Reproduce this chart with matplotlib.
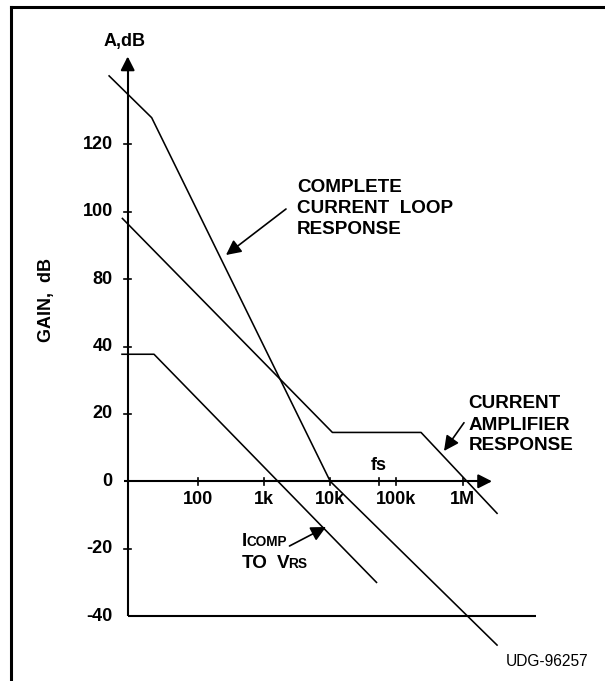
import matplotlib
matplotlib.use("Agg")
import matplotlib.pyplot as plt
from matplotlib.lines import Line2D

# ---------------- data ----------------
# x: frequency in Hz (log axis); y: vertical position in axis units
# (tick positions are evenly spaced; their printed labels are below)
freq_ticks = [100, 1e3, 1e4, 1e5, 1e6]
freq_labels = ["100", "1k", "10k", "100k", "1M"]
fs_freq = 55e3

gain_tick_pos = [100, 80, 60, 40, 20, 0, -20, -40]
gain_tick_labels = ["120", "100", "80", "40", "20", "0", "-20", "-40"]

loop_f = [4.6, 20.2, 10.0e3, 3.3e6]          # complete current loop response
loop_g = [120.3, 107.9, 0.0, -48.6]

amp_f = [7.3, 10.8e3, 235e3, 3.3e6]          # current amplifier response
amp_g = [78.0, 14.5, 14.5, -9.5]

icomp_f = [7.2, 21.9, 50e3]                  # ICOMP to VRS
icomp_g = [37.7, 37.7, -30.0]

# ---------------- layout ----------------
W, H = 605, 681
X100_PX, DEC_PX = 197.7, 66.25      # pixel of 100 Hz, pixels per decade
Y0_PX, UNIT_PX = 481.3, 67.4 / 20   # pixel of 0, pixels per axis unit


def fx(px):
    return 10 ** (2 + (px - X100_PX) / DEC_PX)


def fy(py):
    return (Y0_PX - py) / UNIT_PX


def FX(px):
    return px / W


def FY(py):
    return 1 - py / H


plt.rcParams['font.family'] = ['Liberation Sans', 'DejaVu Sans']

fig = plt.figure(figsize=(W / 100, H / 100), dpi=100)
ax = fig.add_axes([0, 0, 1, 1])
ax.set_xscale('log')
ax.set_xlim(fx(0), fx(W))
ax.set_ylim(fy(H), fy(0))
ax.axis('off')

LW = 1.15
AXW = 1.5
TICK_FS = 13
LABEL_FS = 13.6
bold = dict(fontweight='bold', color='black')

# frame (top and left borders)
fig.add_artist(Line2D([FX(10.5), FX(10.5)], [FY(6.5), 0], color='black', lw=2.2,
                      transform=fig.transFigure, solid_capstyle='projecting'))
fig.add_artist(Line2D([FX(10.5), 1], [FY(6.5), FY(6.5)], color='black', lw=2.2,
                      transform=fig.transFigure, solid_capstyle='projecting'))

# axes lines
x_axis_f = fx(127.7)
ax.plot([x_axis_f, x_axis_f], [-40, fy(66)], color='black', lw=AXW, solid_capstyle='butt')
ax.annotate('', xy=(x_axis_f, fy(56.5)), xytext=(x_axis_f, fy(70)),
            arrowprops=dict(arrowstyle='-|>,head_length=0.55,head_width=0.28',
                            mutation_scale=15, color='black', lw=AXW,
                            shrinkA=0, shrinkB=0))
ax.plot([fx(124.5), fx(482)], [0, 0], color='black', lw=AXW, solid_capstyle='butt')
ax.annotate('', xy=(fx(492), 0), xytext=(fx(478), 0),
            arrowprops=dict(arrowstyle='-|>,head_length=0.55,head_width=0.28',
                            mutation_scale=15, color='black', lw=AXW,
                            shrinkA=0, shrinkB=0))
ax.plot([x_axis_f, fx(535.7)], [-40, -40], color='black', lw=AXW, solid_capstyle='butt')

# y ticks
for pos, lab in zip(gain_tick_pos, gain_tick_labels):
    if pos not in (-40, 0):
        ax.plot([fx(124.3), fx(131)], [pos, pos], color='black', lw=1.2)
    ax.text(fx(112.7), pos, lab, ha='right', va='center', fontsize=TICK_FS, **bold)

# x ticks
for f, lab in zip(freq_ticks, freq_labels):
    ax.plot([f, f], [fy(478), fy(484.5)], color='black', lw=1.2)
    ax.text(f, fy(499.5), lab, ha='center', va='center', fontsize=TICK_FS, **bold)
ax.plot([fs_freq, fs_freq], [fy(478), fy(484.5)], color='black', lw=1.2)
ax.text(fs_freq, fy(466), 'fs', ha='center', va='center', fontsize=TICK_FS, **bold)

# response lines
ax.plot(loop_f, loop_g, color='black', lw=LW)
ax.plot(amp_f, amp_g, color='black', lw=LW)
ax.plot(icomp_f, icomp_g, color='black', lw=LW)

# axis titles
fig.text(FX(125), FY(41.5), 'A,dB', ha='center', va='center', fontsize=TICK_FS, **bold)
fig.text(FX(47), FY(300), 'GAIN,  dB', ha='center', va='center', rotation=90,
         fontsize=TICK_FS, **bold)

# labels
for i, line in enumerate(['COMPLETE', 'CURRENT  LOOP', 'RESPONSE']):
    fig.text(FX(297), FY(187.5 + 21 * i), line, ha='left', va='center',
             fontsize=LABEL_FS, **bold)
for i, line in enumerate(['CURRENT', 'AMPLIFIER', 'RESPONSE']):
    fig.text(FX(468.3), FY(404 + 21 * i), line, ha='left', va='center',
             fontsize=LABEL_FS, **bold)

# ICOMP TO VRS label (small caps subscripts)
fig.text(FX(241.5), FY(546), 'I', ha='left', va='baseline', fontsize=LABEL_FS, **bold)
fig.text(FX(246.5), FY(546), 'COMP', ha='left', va='baseline', fontsize=9.8, **bold)
fig.text(FX(241.5), FY(568.3), 'TO', ha='left', va='baseline', fontsize=LABEL_FS, **bold)
fig.text(FX(276.5), FY(568.3), 'V', ha='left', va='baseline', fontsize=LABEL_FS, **bold)
fig.text(FX(287.8), FY(568.3), 'RS', ha='left', va='baseline', fontsize=9.8, **bold)

# arrows pointing at curves
arrow_kw = dict(arrowstyle='-|>,head_length=0.6,head_width=0.3', mutation_scale=15,
                color='black', lw=1.2, shrinkA=0, shrinkB=0)
fig.add_artist(matplotlib.patches.FancyArrowPatch((FX(286), FY(209)), (FX(226), FY(255)),
                                                  transform=fig.transFigure, **arrow_kw))
fig.add_artist(matplotlib.patches.FancyArrowPatch((FX(464), FY(422.7)), (FX(444), FY(451)),
                                                  transform=fig.transFigure, **arrow_kw))
fig.add_artist(matplotlib.patches.FancyArrowPatch((FX(289.5), FY(546)), (FX(326), FY(527)),
                                                  transform=fig.transFigure, **arrow_kw))

# figure id
fig.text(FX(547.3), FY(662), 'UDG-96257', ha='center', va='center', fontsize=11.2,
         color='black')

fig.savefig('out.png', dpi=100)
